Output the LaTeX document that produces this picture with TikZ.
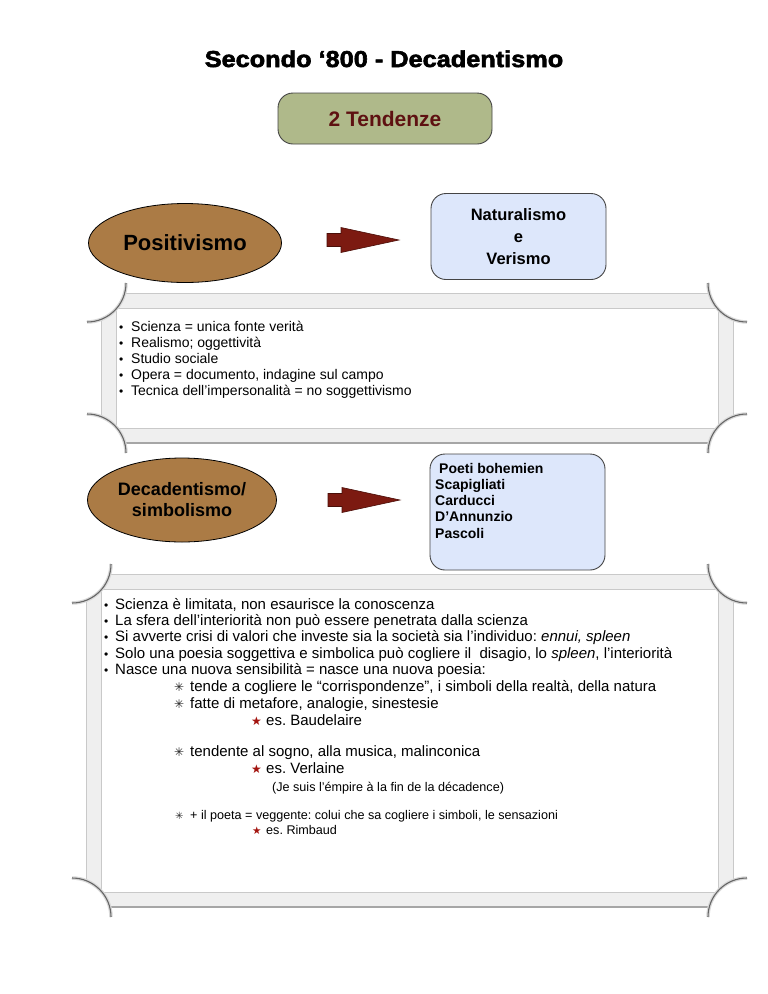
\documentclass[tikz,border=0pt]{standalone}
\usepackage{fontspec}
\setmainfont{Liberation Sans}
\newfontfamily\symfont{DejaVu Sans}
\newfontfamily\titlefont[BoldFeatures={FakeBold=2.6,FakeStretch=1.1}]{Liberation Sans}
\usetikzlibrary{shapes.geometric}
\definecolor{olivebox}{HTML}{AFB98A}
\definecolor{darkredtxt}{HTML}{5E1111}
\definecolor{brownell}{HTML}{AB7B45}
\definecolor{arrowred}{HTML}{7C1A11}
\definecolor{arrowedge}{HTML}{4A0E08}
\definecolor{lightblue}{HTML}{DDE7FB}
\definecolor{bandgray}{HTML}{EFEFEF}
\definecolor{bandline}{HTML}{C9C9C9}
\definecolor{starred}{HTML}{A3140F}
\definecolor{boxedge}{HTML}{444444}

\newcommand{\scrollframe}[4]{%
  \fill[bandgray,even odd rule] (#1,-#2) rectangle (#3,-#4) (#1+15,-#2-15) rectangle (#3-15,-#4+15);
  \draw[bandline,line width=0.6pt] (#1,-#2) rectangle (#3,-#4);
  \draw[bandline,line width=0.6pt] (#1+15,-#2-15) rectangle (#3-15,-#4+15);
  \draw[black!35,line width=1.2pt] (#1+20,-#4) -- (#3-20,-#4);
  \fill[white] (#1-14,-#2+10) circle[radius=39pt];
  \fill[white] (#3+14,-#2+10) circle[radius=39pt];
  \fill[white] (#1-14,-#4-10) circle[radius=39pt];
  \fill[white] (#3+14,-#4-10) circle[radius=39pt];
  \draw[arcsoft] (#1-14,-#2+10) ++(0:39pt) arc[start angle=0,end angle=-90,radius=39pt];
  \draw[arcdark] (#1-14,-#2+10) ++(0:39pt) arc[start angle=0,end angle=-90,radius=39pt];
  \draw[arcsoft] (#3+14,-#2+10) ++(180:39pt) arc[start angle=180,end angle=270,radius=39pt];
  \draw[arcdark] (#3+14,-#2+10) ++(180:39pt) arc[start angle=180,end angle=270,radius=39pt];
  \draw[arcsoft] (#1-14,-#4-10) ++(0:39pt) arc[start angle=0,end angle=90,radius=39pt];
  \draw[arcdark] (#1-14,-#4-10) ++(0:39pt) arc[start angle=0,end angle=90,radius=39pt];
  \draw[arcsoft] (#3+14,-#4-10) ++(180:39pt) arc[start angle=180,end angle=90,radius=39pt];
  \draw[arcdark] (#3+14,-#4-10) ++(180:39pt) arc[start angle=180,end angle=90,radius=39pt];
}
% block arrow centred on a named coordinate
\newcommand{\blockarrowat}[1]{%
  \filldraw[fill=arrowred,draw=arrowedge,line width=0.6pt,line join=miter]
    (#1) ++(-36,6.5) -- ++(14,0) -- ++(0,6) -- ++(58,-12.5) -- ++(-58,-12.5) -- ++(0,6) -- ++(-14,0) -- cycle;
}

\begin{document}
\frenchspacing
\begin{tikzpicture}[x=1pt,y=1pt,
  arcsoft/.style={black!15,line width=3.5pt},
  arcdark/.style={black!60,line width=1.1pt},
  titletxt/.style={anchor=base,inner sep=0pt,font=\titlefont\bfseries\fontsize{23}{28}\selectfont},
  ovalnode/.style={ellipse,draw=black,line width=0.8pt,fill=brownell,inner sep=0pt,align=center,
    font=\bfseries\fontsize{18}{21}\selectfont},
  roundbox/.style={rectangle,rounded corners=15pt,draw=boxedge,line width=0.9pt,inner sep=0pt},
  bodytxt/.style={anchor=base west,inner sep=0pt,font=\fontsize{15}{18}\selectfont},
  uppertxt/.style={anchor=base west,inner sep=0pt,font=\fontsize{14}{16}\selectfont},
  smalltxt/.style={anchor=base west,inner sep=0pt,font=\fontsize{12.6}{15}\selectfont},
  bul/.style={anchor=base west,inner sep=0pt,font=\fontsize{12}{14}\selectfont},
  astsym/.style={anchor=base west,inner sep=0pt,text=black!85,font=\symfont\fontsize{12}{14}\selectfont},
  starsym/.style={anchor=base west,inner sep=0pt,text=starred,font=\symfont\fontsize{12}{14}\selectfont},
  boxtxt/.style={anchor=base west,inner sep=0pt,font=\bfseries\fontsize{14}{16}\selectfont}
]
\useasboundingbox (0,0) rectangle (768,-994);

% scroll frames
\scrollframe{101}{293}{733}{443}
\scrollframe{86}{574}{733}{907}

% title
\node[titletxt] (title) at (384,-67) {Secondo ‘800 - Decadentismo};

% 2 Tendenze
\node[roundbox,fill=olivebox,minimum width=214pt,minimum height=51pt,
  font=\bfseries\fontsize{21}{24}\selectfont,text=darkredtxt] (tend) at (385,-118.5) {2 Tendenze};

% Positivismo row
\node[ovalnode,minimum width=193pt,minimum height=79pt,font=\bfseries\fontsize{22}{24}\selectfont] (pos) at (185,-243) {Positivismo};
\coordinate (arr1) at (363,-240);
\blockarrowat{arr1}
\node[roundbox,fill=lightblue,minimum width=175pt,minimum height=86pt,align=center,
  font=\bfseries\fontsize{16.5}{22}\selectfont] (nat) at (518.5,-236.5) {Naturalismo\\e\\Verismo};

% frame 1 text
\node[bul] (b1) at (119,-331) {•};
\node[bul] (b2) at (119,-347) {•};
\node[bul] (b3) at (119,-363) {•};
\node[bul] (b4) at (119,-379) {•};
\node[bul] (b5) at (119,-395) {•};
\node[uppertxt] (t1) at (131,-331) {Scienza = unica fonte verità};
\node[uppertxt] (t2) at (131,-347) {Realismo; oggettività};
\node[uppertxt] (t3) at (131,-363) {Studio sociale};
\node[uppertxt] (t4) at (131,-379) {Opera = documento, indagine sul campo};
\node[uppertxt] (t5) at (131,-395) {Tecnica dell’impersonalità = no soggettivismo};

% Decadentismo row
\node[ovalnode,minimum width=189pt,minimum height=84pt] (dec) at (182,-500) {Decadentismo/\\simbolismo};
\coordinate (arr2) at (364,-500);
\blockarrowat{arr2}
\node[roundbox,fill=lightblue,minimum width=175pt,minimum height=116pt] (poeti) at (517.5,-512) {};
\node[boxtxt] (p1) at (439,-473) {Poeti bohemien};
\node[boxtxt] (p2) at (435,-489) {Scapigliati};
\node[boxtxt] (p3) at (435,-505) {Carducci};
\node[boxtxt] (p4) at (435,-521.5) {D’Annunzio};
\node[boxtxt] (p5) at (435,-538) {Pascoli};

% frame 2 text
\node[bul] (c1) at (104,-609) {•};
\node[bul] (c2) at (104,-625) {•};
\node[bul] (c3) at (104,-641) {•};
\node[bul] (c4) at (104,-658) {•};
\node[bul] (c5) at (104,-674) {•};
\node[bodytxt] (u1) at (115,-609) {Scienza è limitata, non esaurisce la conoscenza};
\node[bodytxt] (u2) at (115,-625) {La sfera dell’interiorità non può essere penetrata dalla scienza};
\node[bodytxt] (u3) at (115,-641) {Si avverte crisi di valori che investe sia la società sia l’individuo: \textit{ennui, spleen}};
\node[bodytxt] (u4) at (115,-658) {Solo una poesia soggettiva e simbolica può cogliere il\ \ disagio, lo \textit{spleen}, l’interiorità};
\node[bodytxt] (u5) at (115,-674) {Nasce una nuova sensibilità = nasce una nuova poesia:};

\node[astsym] (a1) at (174,-691) {✳};
\node[bodytxt] (v1) at (190,-691) {tende a cogliere le “corrispondenze”, i simboli della realtà, della natura};
\node[astsym] (a2) at (174,-708) {✳};
\node[bodytxt] (v2) at (190,-708) {fatte di metafore, analogie, sinestesie};
\node[starsym] (s1) at (251,-725) {★};
\node[bodytxt] (w1) at (266,-725) {es. Baudelaire};

\node[astsym] (a3) at (174,-756) {✳};
\node[bodytxt] (v3) at (190,-756) {tendente al sogno, alla musica, malinconica};
\node[starsym] (s2) at (251,-773) {★};
\node[bodytxt] (w2) at (266,-773) {es. Verlaine};
\node[smalltxt] (je) at (272,-791) {(Je suis l’émpire à la fin de la décadence)};

\node[astsym,font=\symfont\fontsize{10}{12}\selectfont] (a4) at (175,-819) {✳};
\node[smalltxt] (v4) at (190,-819) {+ il poeta = veggente: colui che sa cogliere i simboli, le sensazioni};
\node[starsym,font=\symfont\fontsize{10.5}{12}\selectfont] (s3) at (252,-834) {★};
\node[smalltxt] (w3) at (266,-834) {es. Rimbaud};
\end{tikzpicture}
\end{document}
